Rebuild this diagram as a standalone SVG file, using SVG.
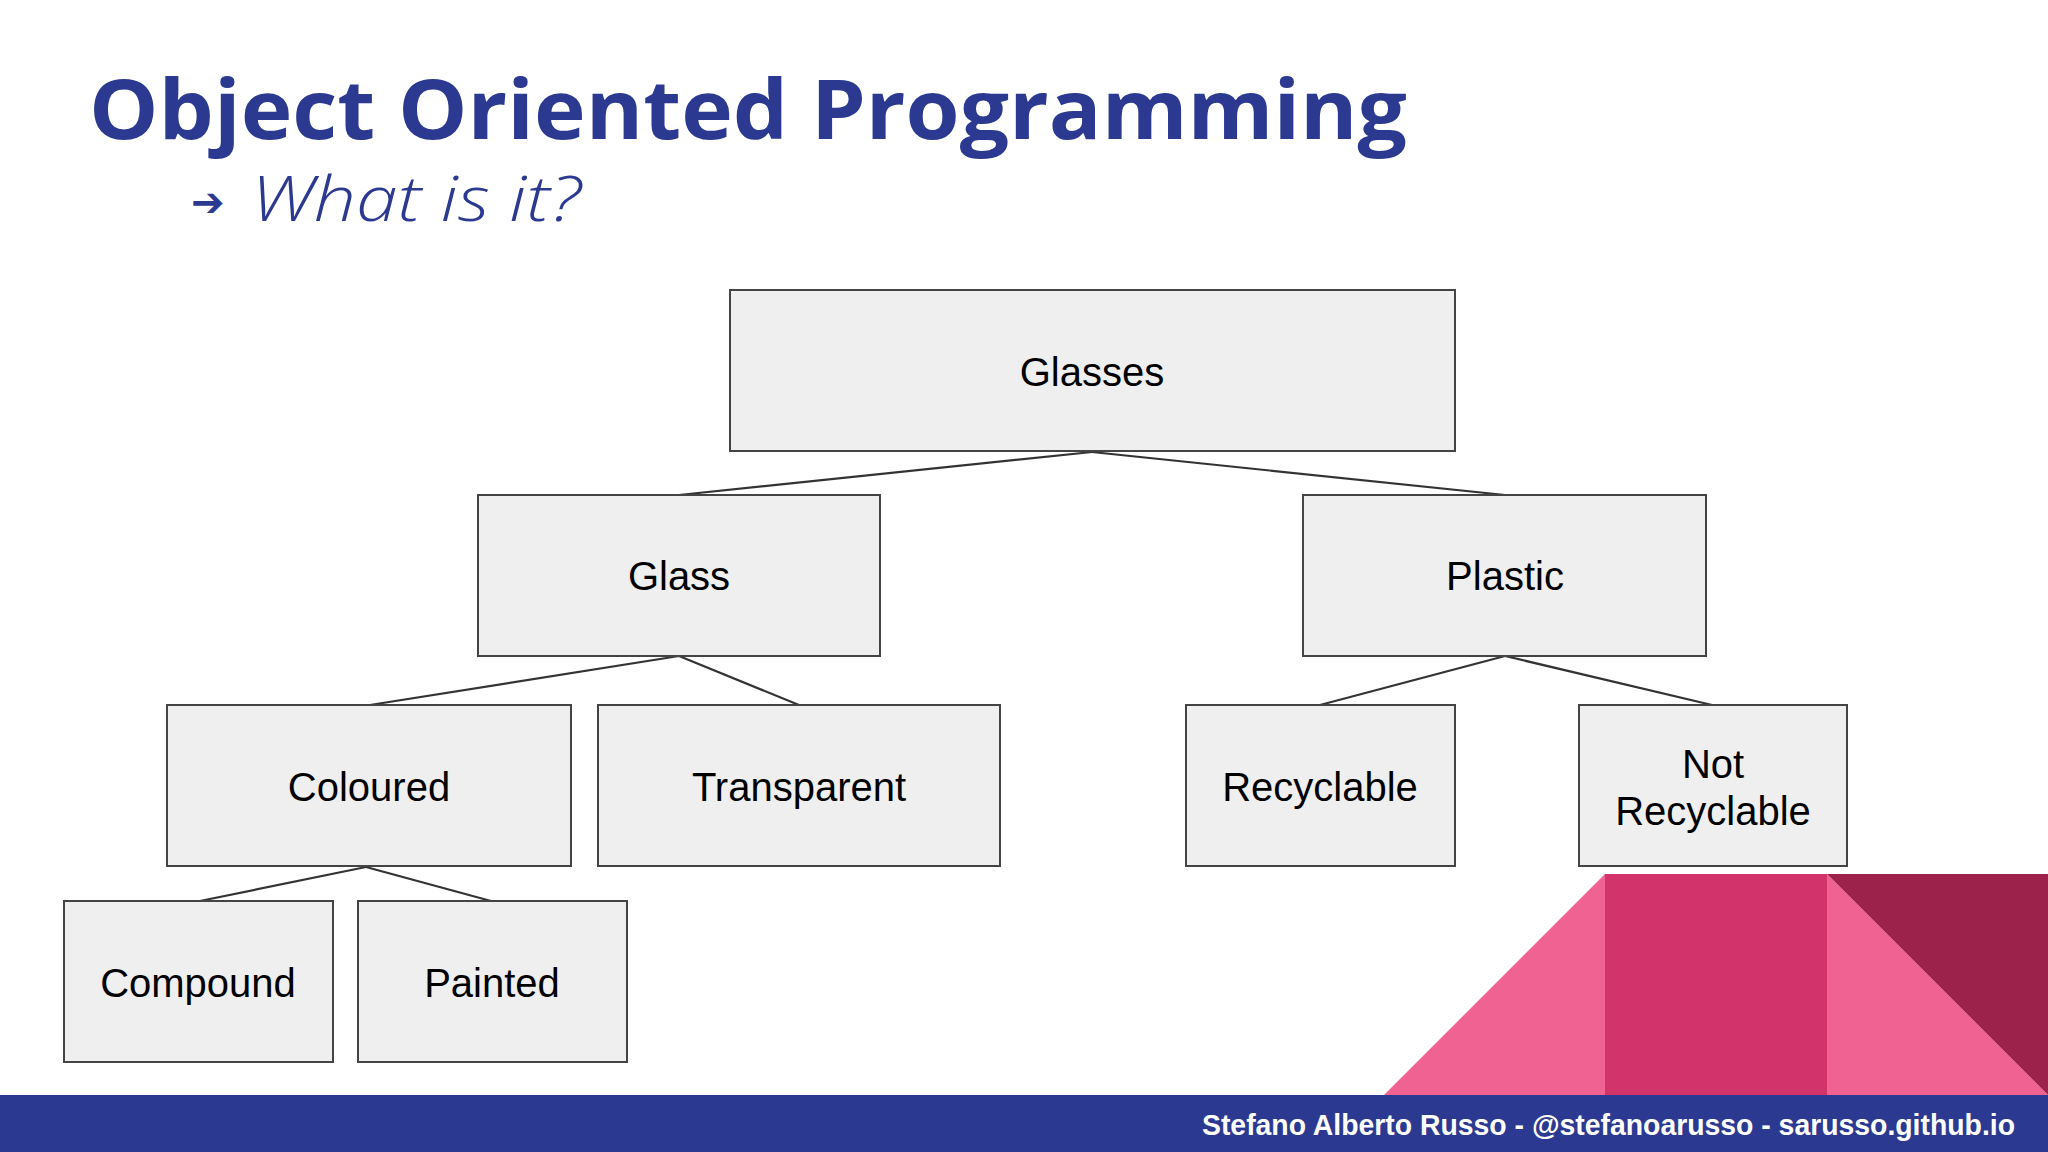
<svg xmlns="http://www.w3.org/2000/svg" width="2048" height="1152" viewBox="0 0 2048 1152">
<style>
.box{fill:#efefef;stroke:#444;stroke-width:2}
.lbl{font-family:"Liberation Sans",Arial,sans-serif;font-size:40px;fill:#000;text-anchor:middle}
.conn line{stroke:#333;stroke-width:2.2}
</style>
<rect width="2048" height="1152" fill="#ffffff"/>
<text x="89" y="139" font-family="Open Sans, Noto Sans, sans-serif" font-weight="700" font-size="82" fill="#2b3990" textLength="1318" lengthAdjust="spacingAndGlyphs">Object Oriented Programming</text>
<text x="191" y="216" font-family="DejaVu Sans, sans-serif" font-weight="700" font-size="40" fill="#2b3990">➔</text>
<text x="251" y="221" font-family="Open Sans, Noto Sans, sans-serif" font-style="italic" font-weight="300" font-size="62" fill="#2b3990" textLength="330" lengthAdjust="spacingAndGlyphs">What is it?</text>

<g id="connectors" class="conn">
<line x1="1092" y1="452" x2="679" y2="495"/>
<line x1="1092" y1="452" x2="1505" y2="495"/>
<line x1="679" y1="656" x2="370" y2="705"/>
<line x1="679" y1="656" x2="799" y2="705"/>
<line x1="1505" y1="656" x2="1320" y2="705"/>
<line x1="1505" y1="656" x2="1712" y2="705"/>
<line x1="366" y1="867" x2="200" y2="901"/>
<line x1="366" y1="867" x2="491" y2="901"/>
</g>

<g id="n-glasses"><rect class="box" x="730" y="290" width="725" height="161"/><text class="lbl" x="1092" y="386">Glasses</text></g>
<g id="n-glass"><rect class="box" x="478" y="495" width="402" height="161"/><text class="lbl" x="679" y="590">Glass</text></g>
<g id="n-plastic"><rect class="box" x="1303" y="495" width="403" height="161"/><text class="lbl" x="1505" y="590">Plastic</text></g>
<g id="n-coloured"><rect class="box" x="167" y="705" width="404" height="161"/><text class="lbl" x="369" y="801">Coloured</text></g>
<g id="n-transparent"><rect class="box" x="598" y="705" width="402" height="161"/><text class="lbl" x="799" y="801">Transparent</text></g>
<g id="n-recyclable"><rect class="box" x="1186" y="705" width="269" height="161"/><text class="lbl" x="1320" y="801">Recyclable</text></g>
<g id="n-notrecyclable"><rect class="box" x="1579" y="705" width="268" height="161"/><text class="lbl" x="1713" y="778">Not</text><text class="lbl" x="1713" y="825">Recyclable</text></g>
<g id="n-compound"><rect class="box" x="64" y="901" width="269" height="161"/><text class="lbl" x="198" y="997">Compound</text></g>
<g id="n-painted"><rect class="box" x="358" y="901" width="269" height="161"/><text class="lbl" x="492" y="997">Painted</text></g>

<polygon points="1384,1095 1605,874 1605,1095" fill="#f06292"/>
<rect x="1605" y="874" width="222" height="221" fill="#d1336a"/>
<polygon points="1827,874 2048,1095 1827,1095" fill="#f06292"/>
<polygon points="1827,874 2048,874 2048,1095" fill="#9c224b"/>
<rect x="0" y="1095" width="2048" height="57" fill="#2b3990"/>
<text x="1202" y="1135" font-family="Liberation Sans, Arial, sans-serif" font-weight="700" font-size="29" fill="#ffffff" textLength="813" lengthAdjust="spacingAndGlyphs">Stefano Alberto Russo - @stefanoarusso - sarusso.github.io</text>
</svg>
